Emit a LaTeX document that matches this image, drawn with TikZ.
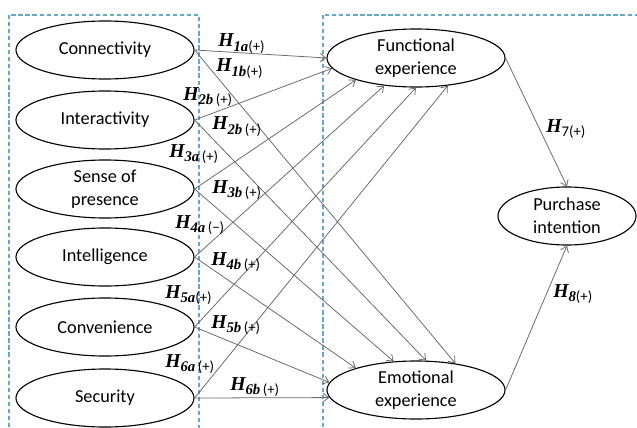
\documentclass[tikz,border=0pt]{standalone}
\usepackage{fontspec}
\setmainfont{Carlito}
\newfontfamily\hfont{Liberation Serif}
\usetikzlibrary{shapes.geometric,arrows.meta}
\definecolor{boxblue}{RGB}{100,168,205}
\definecolor{arrowgray}{RGB}{105,105,105}
\newcommand{\hyp}[2]{{\hfont\fontsize{14}{14}\selectfont\bfseries\itshape H}{\hfont\fontsize{10.5}{10.5}\selectfont\raisebox{-3.5pt}{\bfseries\itshape #1\normalfont#2}}}
\begin{document}
\begin{tikzpicture}[x=0.025cm,y=-0.025cm,
    construct/.style={ellipse,draw=black,line width=0.8pt,inner sep=0pt,
        minimum width=4.45cm,minimum height=1.45cm,align=center,
        font=\fontsize{13}{16.4}\selectfont},
    frame/.style={draw=boxblue,dash pattern=on 3pt off 2pt,line width=0.75pt},
    path/.style={draw=arrowgray,line width=0.55pt,-{Straight Barb[length=4pt,width=6pt]}},
    hlabel/.style={anchor=base west,inner sep=0pt}]
    \useasboundingbox (0,0) rectangle (637,427);
    \clip (0,0) rectangle (637,427);
    % dashed frames
    \draw[frame] (9,15) rectangle (199,440);
    \draw[frame] (323,15) rectangle (650,440);
    % constructs
    \node[construct] (conn)  at (105,50)  {Connectivity};
    \node[construct] (inter) at (105,120) {Interactivity};
    \node[construct] (pres)  at (105,189) {Sense of\\presence};
    \node[construct] (intel) at (105,257) {Intelligence};
    \node[construct] (conv)  at (105,327) {Convenience};
    \node[construct] (secu)  at (105,398) {Security};
    \node[construct] (func)  at (416,58)  {Functional\\experience};
    \node[construct] (emot)  at (416,390) {Emotional\\experience};
    \node[construct,minimum width=3.45cm] (purch) at (567,216) {Purchase\\intention};
    % paths to functional experience
    \draw[path] (conn.east)  -- (func.180);
    \draw[path] (inter.east) -- (func.187);
    \draw[path] (pres.east)  -- (func.200);
    \draw[path] (intel.east) -- (func.221);
    \draw[path] (conv.east)  -- (func.270);
    \draw[path] (secu.east)  -- (func.319);
    % paths to emotional experience
    \draw[path] (conn.east)  -- (emot.34);
    \draw[path] (inter.east) -- (emot.71);
    \draw[path] (pres.east)  -- (emot.128);
    \draw[path] (intel.east) -- (emot.160);
    \draw[path] (conv.east)  -- (emot.175);
    \draw[path] (secu.east)  -- (emot.185);
    % paths to purchase intention
    \draw[path] (func.east) -- (purch.north);
    \draw[path] (emot.east) -- (purch.south);
    % hypothesis labels
    \node[hlabel] (h1a) at (218,47)  {\hyp{1a}{(+)}};
    \node[hlabel] (h1b) at (216,72)  {\hyp{1b}{(+)}};
    \node[hlabel] (h2a) at (183,100) {\hyp{2b}{\,(+)}};
    \node[hlabel] (h2b) at (212,130) {\hyp{2b}{\,(+)}};
    \node[hlabel] (h3a) at (169,157) {\hyp{3a}{\,(+)}};
    \node[hlabel] (h3b) at (212,193) {\hyp{3b}{\,(+)}};
    \node[hlabel] (h4a) at (175,228) {\hyp{4a}{\,(\textminus)}};
    \node[hlabel] (h4b) at (211,265) {\hyp{4b}{\,(+)}};
    \node[hlabel] (h5a) at (165,298) {\hyp{5a}{(+)}};
    \node[hlabel] (h5b) at (211,328) {\hyp{5b}{\,(+)}};
    \node[hlabel] (h6a) at (165,367) {\hyp{6a}{\,(+)}};
    \node[hlabel] (h6b) at (230,390) {\hyp{6b}{\,(+)}};
    \node[hlabel] (h7)  at (546,132) {\hyp{\normalfont 7}{(+)}};
    \node[hlabel] (h8)  at (553,297) {\hyp{8}{(+)}};
\end{tikzpicture}
\end{document}
